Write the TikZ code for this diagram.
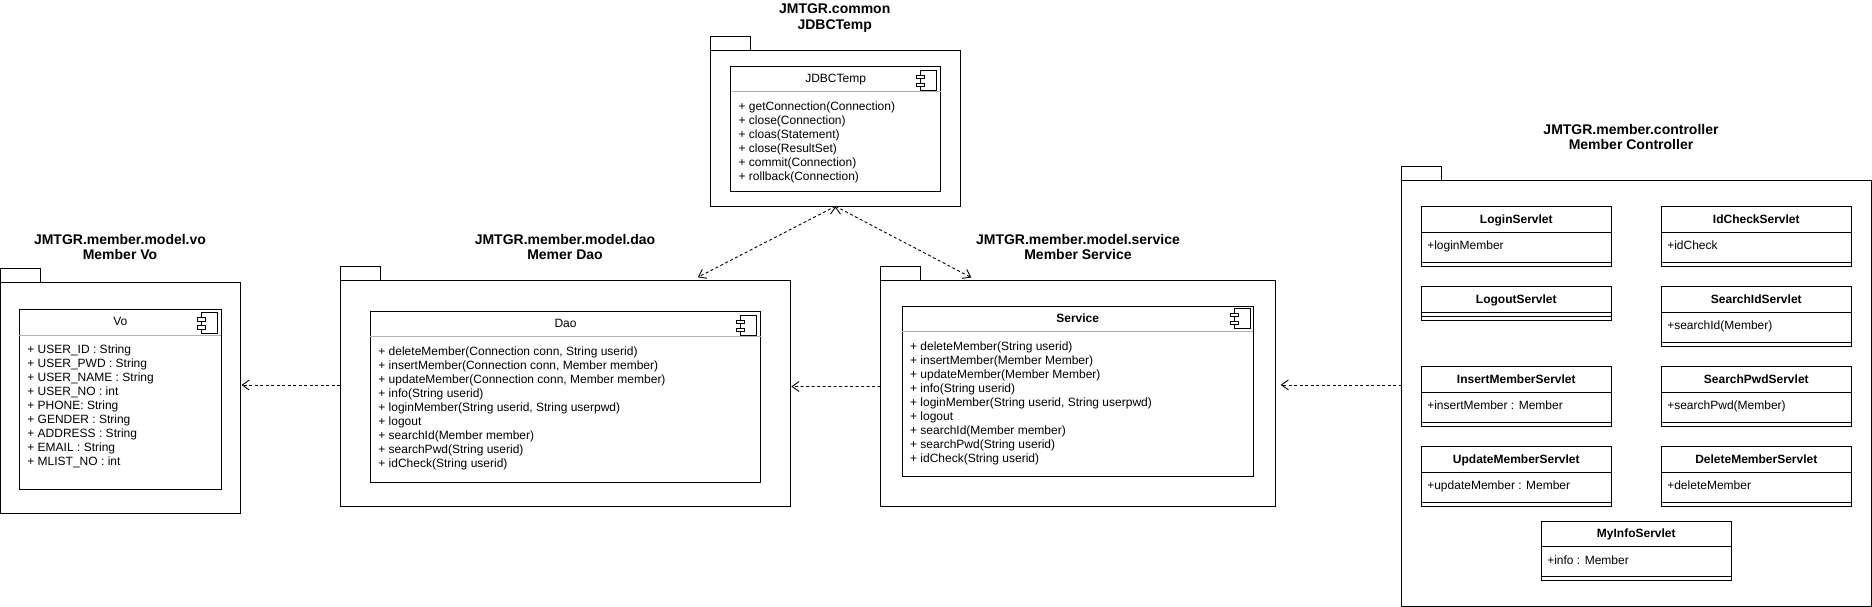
\documentclass[tikz,border=0pt]{standalone}
\usepackage{fontspec}
\setmainfont{Liberation Sans}
\usetikzlibrary{shapes, arrows.meta, positioning}

\newcommand{\headpart}[1]{\rule[-8.7pt]{0pt}{24.7pt}#1}
\newcommand{\memberlist}[2]{\rule[\dimexpr18pt-#1\relax]{0pt}{#1}\begin{tabular}[t]{@{}l@{}}#2\end{tabular}}
\newcommand{\classbody}[1]{\rule[-12.3pt]{0pt}{29.1pt}#1}
\newcommand{\thinpart}{\rule{0pt}{3.1pt}}

\tikzset{
	pkg/.style={draw, anchor=north west, inner sep=0pt, outer sep=0pt},
	pkgtab/.style={draw, anchor=south west, inner sep=0pt, outer sep=0pt, minimum height=14pt},
	pkgtitle/.style={align=center, font=\fontsize{14}{15.7}\selectfont\bfseries},
	comp/.style={draw, anchor=north west, rectangle split, rectangle split parts=2,
		rectangle split part align={center,left}, inner ysep=0pt, inner xsep=8pt, outer sep=0pt,
		font=\fontsize{12}{14}\selectfont},
	servlet/.style={draw, anchor=north west, rectangle split, rectangle split parts=3,
		rectangle split part align={center,left,center}, inner ysep=0pt, inner xsep=6pt, outer sep=0pt,
		minimum width=190pt, font=\fontsize{12}{14}\selectfont},
	headline/.style={draw=gray!60},
	dep/.style={draw, dashed, dash pattern=on 3pt off 2.5pt, ->},
	compicon/.pic={
		\draw (4,0) rectangle (20.4,20.7);
		\draw[fill=white] (0,5) rectangle (8.2,8.5);
		\draw[fill=white] (0,13) rectangle (8.2,16.5);
	}
}

\begin{document}
\begin{tikzpicture}[x=1pt,y=-1pt,line width=0.9pt,>={Straight Barb[length=7pt,width=10pt]}]
	\useasboundingbox (0,0) rectangle (1872,607);

	% packages
	\node[pkg, minimum width=240pt, minimum height=231pt] (vo) at (0.5,282.7) {};
	\node[pkgtab, minimum width=40pt] (voTab) [above right=0pt of vo.north west, anchor=south west] {};
	\node[pkg, minimum width=450pt, minimum height=226pt] (dao) at (340.3,280.3) {};
	\node[pkgtab, minimum width=40pt] (daoTab) [above right=0pt of dao.north west, anchor=south west] {};
	\node[pkg, minimum width=395pt, minimum height=225.5pt] (service) at (880.7,280.5) {};
	\node[pkgtab, minimum width=40pt] (serviceTab) [above right=0pt of service.north west, anchor=south west] {};
	\node[pkg, minimum width=250.3pt, minimum height=155.6pt] (common) at (710.3,50.7) {};
	\node[pkgtab, minimum width=40pt] (commonTab) [above right=0pt of common.north west, anchor=south west] {};
	\node[pkg, minimum width=470pt, minimum height=425.7pt] (controller) at (1401.5,180.3) {};
	\node[pkgtab, minimum width=40pt] (controllerTab) [above right=0pt of controller.north west, anchor=south west] {};

	\node[pkgtitle] (voTitle) at (120,247) {JMTGR.member.model.vo\\Member Vo};
	\node[pkgtitle] (daoTitle) at (565,247) {JMTGR.member.model.dao\\Memer Dao};
	\node[pkgtitle] (serviceTitle) at (1078,247) {JMTGR.member.model.service\\Member Service};
	\node[pkgtitle] (commonTitle) at (834.7,18.3) {JMTGR.common\\JDBCTemp};
	\node[pkgtitle] (controllerTitle) at (1631,137) {JMTGR.member.controller\\Member Controller};

	% components
	\node[comp, minimum width=202pt] (voBox) at (19.4,309.5) {\headpart{Vo}
		\nodepart{two}\memberlist{153pt}{+ USER\_ID : String\\+ USER\_PWD : String\\+ USER\_NAME : String\\+ USER\_NO : int\\+ PHONE: String\\+ GENDER : String\\+ ADDRESS : String\\+ EMAIL : String\\+ MLIST\_NO : int}};
	\node[comp, minimum width=390.3pt] (daoBox) at (370.4,311.3) {\headpart{Dao}
		\nodepart{two}\memberlist{144.4pt}{+ deleteMember(Connection conn, String userid)\\+ insertMember(Connection conn, Member member)\\+ updateMember(Connection conn, Member member)\\+ info(String userid)\\+ loginMember(String userid, String userpwd)\\+ logout\\+ searchId(Member member)\\+ searchPwd(String userid)\\+ idCheck(String userid)}};
	\node[comp, minimum width=351.2pt] (serviceBox) at (902.1,306.3) {\headpart{\bfseries Service}
		\nodepart{two}\memberlist{143.6pt}{+ deleteMember(String userid)\\+ insertMember(Member Member)\\+ updateMember(Member Member)\\+ info(String userid)\\+ loginMember(String userid, String userpwd)\\+ logout\\+ searchId(Member member)\\+ searchPwd(String userid)\\+ idCheck(String userid)}};
	\node[comp, minimum width=210.1pt] (commonBox) at (730.6,66.3) {\headpart{JDBCTemp}
		\nodepart{two}\memberlist{98.4pt}{+ getConnection(Connection)\\+ close(Connection)\\+ cloas(Statement)\\+ close(ResultSet)\\+ commit(Connection)\\+ rollback(Connection)}};

	\draw[headline] (voBox.one split west) -- (voBox.one split east);
	\draw[headline] (daoBox.one split west) -- (daoBox.one split east);
	\draw[headline] (serviceBox.one split west) -- (serviceBox.one split east);
	\draw[headline] (commonBox.one split west) -- (commonBox.one split east);

	\pic at (197.4,312.7) {compicon};
	\pic at (736.2,315) {compicon};
	\pic at (1230.4,308) {compicon};
	\pic at (916.2,70) {compicon};

	% servlets
	\node[servlet] (login) at (1421.3,206.7) {\headpart{\bfseries LoginServlet}
		\nodepart{two}\classbody{+loginMember}\nodepart{three}\thinpart};
	\node[servlet] (logoutS) at (1421.3,286.7) {\headpart{\bfseries LogoutServlet}
		\nodepart{two}\thinpart\nodepart{three}\thinpart};
	\node[servlet] (insert) at (1421.3,366.7) {\headpart{\bfseries InsertMemberServlet}
		\nodepart{two}\classbody{+insertMember : Member}\nodepart{three}\thinpart};
	\node[servlet] (update) at (1421.3,446.7) {\headpart{\bfseries UpdateMemberServlet}
		\nodepart{two}\classbody{+updateMember : Member}\nodepart{three}\thinpart};
	\node[servlet] (idCheck) at (1661.3,206.7) {\headpart{\bfseries IdCheckServlet}
		\nodepart{two}\classbody{+idCheck}\nodepart{three}\thinpart};
	\node[servlet] (searchId) at (1661.3,286.7) {\headpart{\bfseries SearchIdServlet}
		\nodepart{two}\classbody{+searchId(Member)}\nodepart{three}\thinpart};
	\node[servlet] (searchPwd) at (1661.3,366.7) {\headpart{\bfseries SearchPwdServlet}
		\nodepart{two}\classbody{+searchPwd(Member)}\nodepart{three}\thinpart};
	\node[servlet] (delete) at (1661.3,446.7) {\headpart{\bfseries DeleteMemberServlet}
		\nodepart{two}\classbody{+deleteMember}\nodepart{three}\thinpart};
	\node[servlet] (myInfo) at (1541.3,521.3) {\headpart{\bfseries MyInfoServlet}
		\nodepart{two}\classbody{+info : Member}\nodepart{three}\thinpart};

	% dependencies
	\path[dep]
		([yshift=8.3pt]dao.west) edge ([xshift=1pt,yshift=13.2pt]vo.east)
		([yshift=6.8pt]service.west) edge ([xshift=1pt,yshift=6.8pt]dao.east)
		([yshift=8.2pt]controller.west) edge ([xshift=5pt,yshift=8.3pt]service.east)
		(common.south) edge ([xshift=132.4pt,yshift=3pt]dao.north)
		(common.south) edge ([xshift=-106.9pt,yshift=3pt]service.north);
\end{tikzpicture}
\end{document}
